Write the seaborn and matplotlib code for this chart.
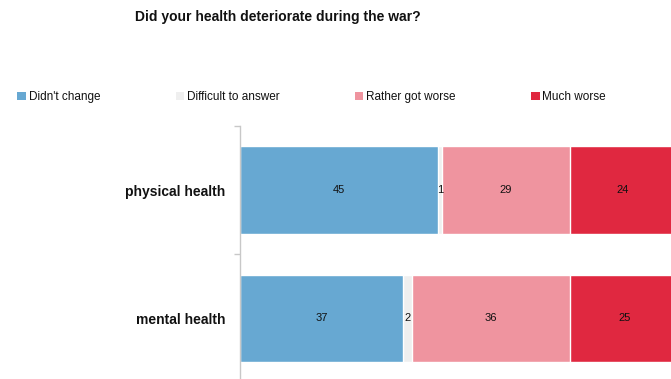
import numpy as np
import pandas as pd
import seaborn as sns
import matplotlib.pyplot as plt
from matplotlib.patches import Patch

# --- data ---
categories = ['physical health', 'mental health']
series_names = ["Didn't change", 'Difficult to answer', 'Rather got worse', 'Much worse']
didnt_change = [45, 37]
difficult = [1, 2]
rather_worse = [29, 36]
much_worse = [24, 25]
colors = ['#67a8d2', '#efefef', '#ef949f', '#e02840']

values = np.array([didnt_change, difficult, rather_worse, much_worse])
cum = values.cumsum(axis=0)

sns.set_theme(style='white')
plt.rcParams['font.family'] = ['Liberation Sans', 'DejaVu Sans']
plt.rcParams['text.color'] = '#111111'
plt.rcParams['ytick.color'] = '#111111'
plt.rcParams['ytick.labelcolor'] = '#111111'

fig = plt.figure(figsize=(6.71, 3.79), dpi=100)
ax = fig.add_axes([0.3577, -0.008, 0.6423, 0.6755])

# stacked bars: draw cumulative totals back to front
for i in range(len(series_names) - 1, -1, -1):
    d = pd.DataFrame({'cat': categories, 'val': cum[i]})
    sns.barplot(data=d, x='val', y='cat', color=colors[i], width=0.68,
                edgecolor='white', linewidth=1.0, saturation=1, ax=ax)

# value labels centred in segments
for i in range(len(series_names)):
    for j in range(len(categories)):
        x = cum[i][j] - values[i][j] / 2
        ax.text(x, j, str(values[i][j]), ha='center', va='center',
                fontsize=8, color='#111111')

ax.set_xlim(0, 98)
ax.set_ylim(1.5, -0.5)
ax.set_xlabel('')
ax.set_ylabel('')
ax.set_xticks([])
ax.set_yticks([0, 1])
ax.set_yticklabels(categories, fontsize=10, fontweight='bold')
ax.set_yticks([-0.5, 0.5, 1.5], minor=True)
ax.tick_params(axis='y', which='major', length=0, pad=10.5)
ax.tick_params(axis='y', which='minor', length=4, color='#c8c8c8', width=1, left=True)
for s in ['top', 'right', 'bottom']:
    ax.spines[s].set_visible(False)
ax.spines['left'].set_color('#c8c8c8')
ax.spines['left'].set_linewidth(1)

fig.text(0.201, 0.955, 'Did your health deteriorate during the war?',
         fontsize=10, fontweight='bold', ha='left', va='center')

handles = [Patch(facecolor=c, edgecolor='none') for c in colors]
fig.legend(handles, series_names, loc='center left', bbox_to_anchor=(0.01, 0.743),
           ncol=4, frameon=False, fontsize=8.5, handlelength=0.7, handleheight=0.7,
           handletextpad=0.25, columnspacing=6.4)

fig.savefig('out.png', dpi=100)
